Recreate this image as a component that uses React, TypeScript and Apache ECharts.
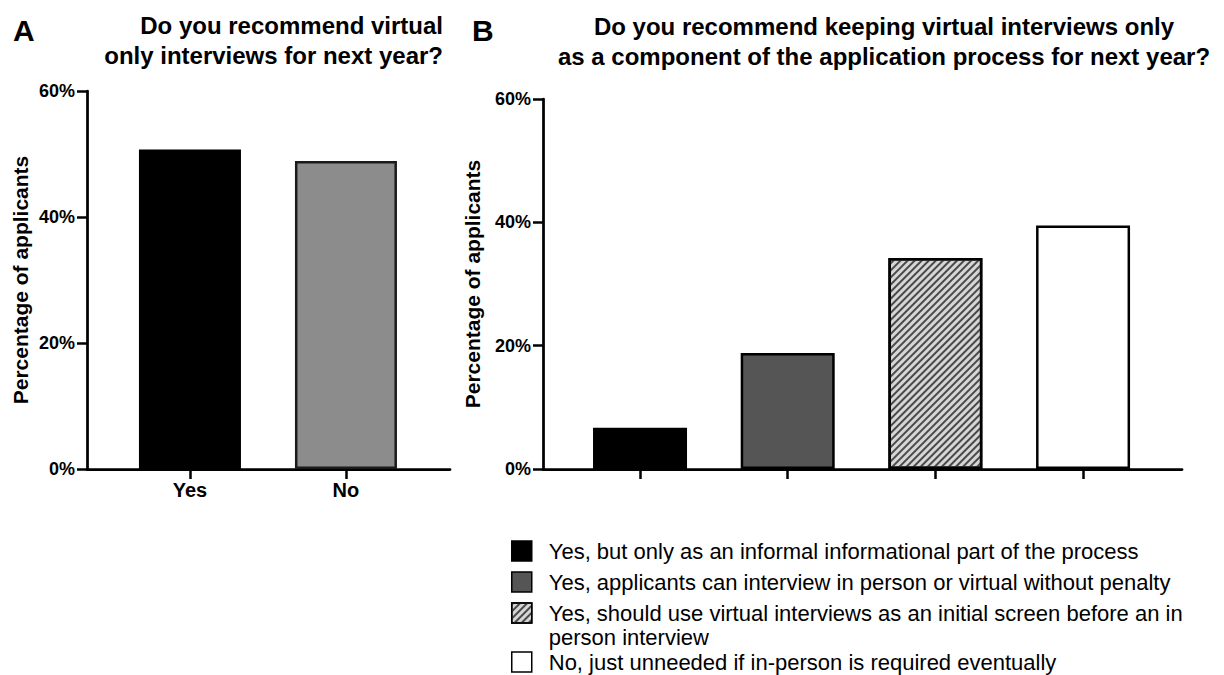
import React, { useEffect, useRef } from "react";
import * as echarts from "echarts";

// ---- data ----
const panelACategories = ["Yes", "No"];
const panelAValues = [50.7, 48.9];

const panelBCategories = [
  "Yes, but only as an informal informational part of the process",
  "Yes, applicants can interview in person or virtual without penalty",
  "Yes, should use virtual interviews as an initial screen before an in\nperson interview",
  "No, just unneeded if in-person is required eventually",
];
const panelBValues = [6.7, 18.8, 34.2, 39.5];

const yMin = 0;
const yMax = 60;
const yInterval = 20;

const titleA = "Do you recommend virtual\nonly interviews for next year?";
const titleB =
  "Do you recommend keeping virtual interviews only\nas a component of the application process for next year?";
const yAxisTitle = "Percentage of applicants";

// ---- styles ----
const colorsA = ["#000000", "#8c8c8c"];
const colorsB = ["#000000", "#555555", "#d6d6d6", "#ffffff"];
const FONT = "'Liberation Sans', Arial, Helvetica, sans-serif";

export default function App() {
  const ref = useRef<HTMLDivElement>(null);

  useEffect(() => {
    if (!ref.current) return;
    const chart = echarts.init(ref.current, null, { renderer: "svg" });

    const axisLineStyle = { color: "#000", width: 2.75 };
    const tickStyle = { color: "#000", width: 2.5 };

    const makeY = (gridIndex: number, nameGap: number) => ({
      type: "value",
      gridIndex,
      min: yMin,
      max: yMax,
      interval: yInterval,
      name: yAxisTitle,
      nameLocation: "middle",
      nameGap,
      nameRotate: 90,
      nameTextStyle: {
        fontFamily: FONT,
        fontWeight: "bold",
        fontSize: 21,
        color: "#000",
      },
      axisLine: { show: true, onZero: false, lineStyle: axisLineStyle },
      axisTick: { show: true, length: 10, lineStyle: tickStyle },
      axisLabel: {
        formatter: "{value}%",
        margin: 12,
        fontFamily: FONT,
        fontWeight: "bold",
        fontSize: 18,
        color: "#000",
      },
      splitLine: { show: false },
    });

    const hatch = {
      symbol: "rect",
      symbolSize: 1,
      color: "#4a4a4a",
      dashArrayX: [5, 0],
      dashArrayY: [1.6, 2.4],
      rotation: -Math.PI / 4,
    };

    const legendText = {
      fontFamily: FONT,
      fontSize: 22,
      lineHeight: 24,
      color: "#000",
      padding: [0, 0, 0, 12],
    };

    const option: any = {
      animation: false,
      backgroundColor: "#ffffff",
      title: [
        {
          text: "A",
          left: 13,
          top: 15,
          padding: 0,
          textVerticalAlign: "top",
          textStyle: { fontFamily: FONT, fontWeight: "bold", fontSize: 30, lineHeight: 30, color: "#000" },
        },
        {
          text: "B",
          left: 472,
          top: 15,
          padding: 0,
          textVerticalAlign: "top",
          textStyle: { fontFamily: FONT, fontWeight: "bold", fontSize: 30, lineHeight: 30, color: "#000" },
        },
        {
          text: titleA,
          left: 443,
          top: 10,
          padding: 0,
          textAlign: "right",
          textVerticalAlign: "top",
          textStyle: { fontFamily: FONT, fontWeight: "bold", fontSize: 24, lineHeight: 30, color: "#000" },
        },
        {
          text: titleB,
          left: 884,
          top: 11,
          padding: 0,
          textAlign: "center",
          textVerticalAlign: "top",
          textStyle: { fontFamily: FONT, fontWeight: "bold", fontSize: 24, lineHeight: 30, color: "#000" },
        },
      ],
      legend: [
        {
          orient: "vertical",
          left: 511,
          top: 539,
          padding: 0,
          itemWidth: 20,
          itemHeight: 20,
          itemGap: 7,
          icon: "rect",
          selectedMode: false,
          itemStyle: { borderColor: "#000", borderWidth: 1.5 },
          textStyle: legendText,
          data: [panelBCategories[0], panelBCategories[1]],
        },
        {
          orient: "vertical",
          left: 511,
          top: 577,
          padding: 0,
          itemWidth: 20,
          itemHeight: 20,
          itemGap: 1,
          icon: "rect",
          selectedMode: false,
          itemStyle: { borderColor: "#000", borderWidth: 1.5 },
          textStyle: legendText,
          // a leading empty line keeps the first text line level with its swatch
          formatter: (name: string) => (name.indexOf("\n") >= 0 ? "\n" + name : name),
          data: [panelBCategories[2], panelBCategories[3]],
        },
      ],
      grid: [
        { left: 87, right: 1224 - 450, top: 91, bottom: 675 - 469, containLabel: false },
        { left: 543, right: 1224 - 1182, top: 99, bottom: 675 - 469, containLabel: false },
      ],
      xAxis: [
        {
          type: "value",
          gridIndex: 0,
          min: -0.66,
          max: panelACategories.length - 1 + 0.667,
          axisLine: { show: true, onZero: true, lineStyle: axisLineStyle },
          axisTick: {
            show: true,
            customValues: panelACategories.map((_, i) => i),
            length: 10,
            lineStyle: tickStyle,
          },
          axisLabel: {
            show: true,
            customValues: panelACategories.map((_, i) => i),
            formatter: (v: number) => {
              const i = Math.round(v);
              return Math.abs(v - i) < 1e-6 && panelACategories[i] ? panelACategories[i] : "";
            },
            margin: 11,
            fontFamily: FONT,
            fontWeight: "bold",
            fontSize: 20,
            color: "#000",
          },
          splitLine: { show: false },
        },
        {
          type: "value",
          gridIndex: 1,
          min: -0.657,
          max: panelBCategories.length - 1 + 0.67,
          axisLine: { show: true, onZero: true, lineStyle: axisLineStyle },
          axisTick: {
            show: true,
            customValues: panelBCategories.map((_, i) => i),
            length: 10,
            lineStyle: tickStyle,
          },
          axisLabel: { show: false },
          splitLine: { show: false },
        },
      ],
      yAxis: [makeY(0, 56), makeY(1, 60)],
      series: [
        {
          type: "bar",
          name: "Panel A",
          xAxisIndex: 0,
          yAxisIndex: 0,
          barWidth: 102,
          itemStyle: { borderColor: "#000", borderWidth: 2.5 },
          data: panelAValues.map((v, i) => ({
            value: [i, v],
            itemStyle: { color: colorsA[i], borderColor: i === 0 ? "#000" : "#1a1a1a" },
          })),
        },
        ...panelBCategories.map((name, i) => ({
          type: "bar",
          name,
          xAxisIndex: 1,
          yAxisIndex: 1,
          barWidth: 94,
          barGap: "-100%",
          itemStyle: {
            color: colorsB[i],
            borderColor: "#000",
            borderWidth: 2.5,
            ...(i === 2 ? { decal: hatch } : {}),
          },
          data: [[i, panelBValues[i]]],
        })),
      ],
    };

    chart.setOption(option);
    return () => {
      chart.dispose();
    };
  }, []);

  return (
    <div
      ref={ref}
      style={{ position: "absolute", left: 0, top: 0, width: 1224, height: 675, background: "#fff" }}
    />
  );
}
